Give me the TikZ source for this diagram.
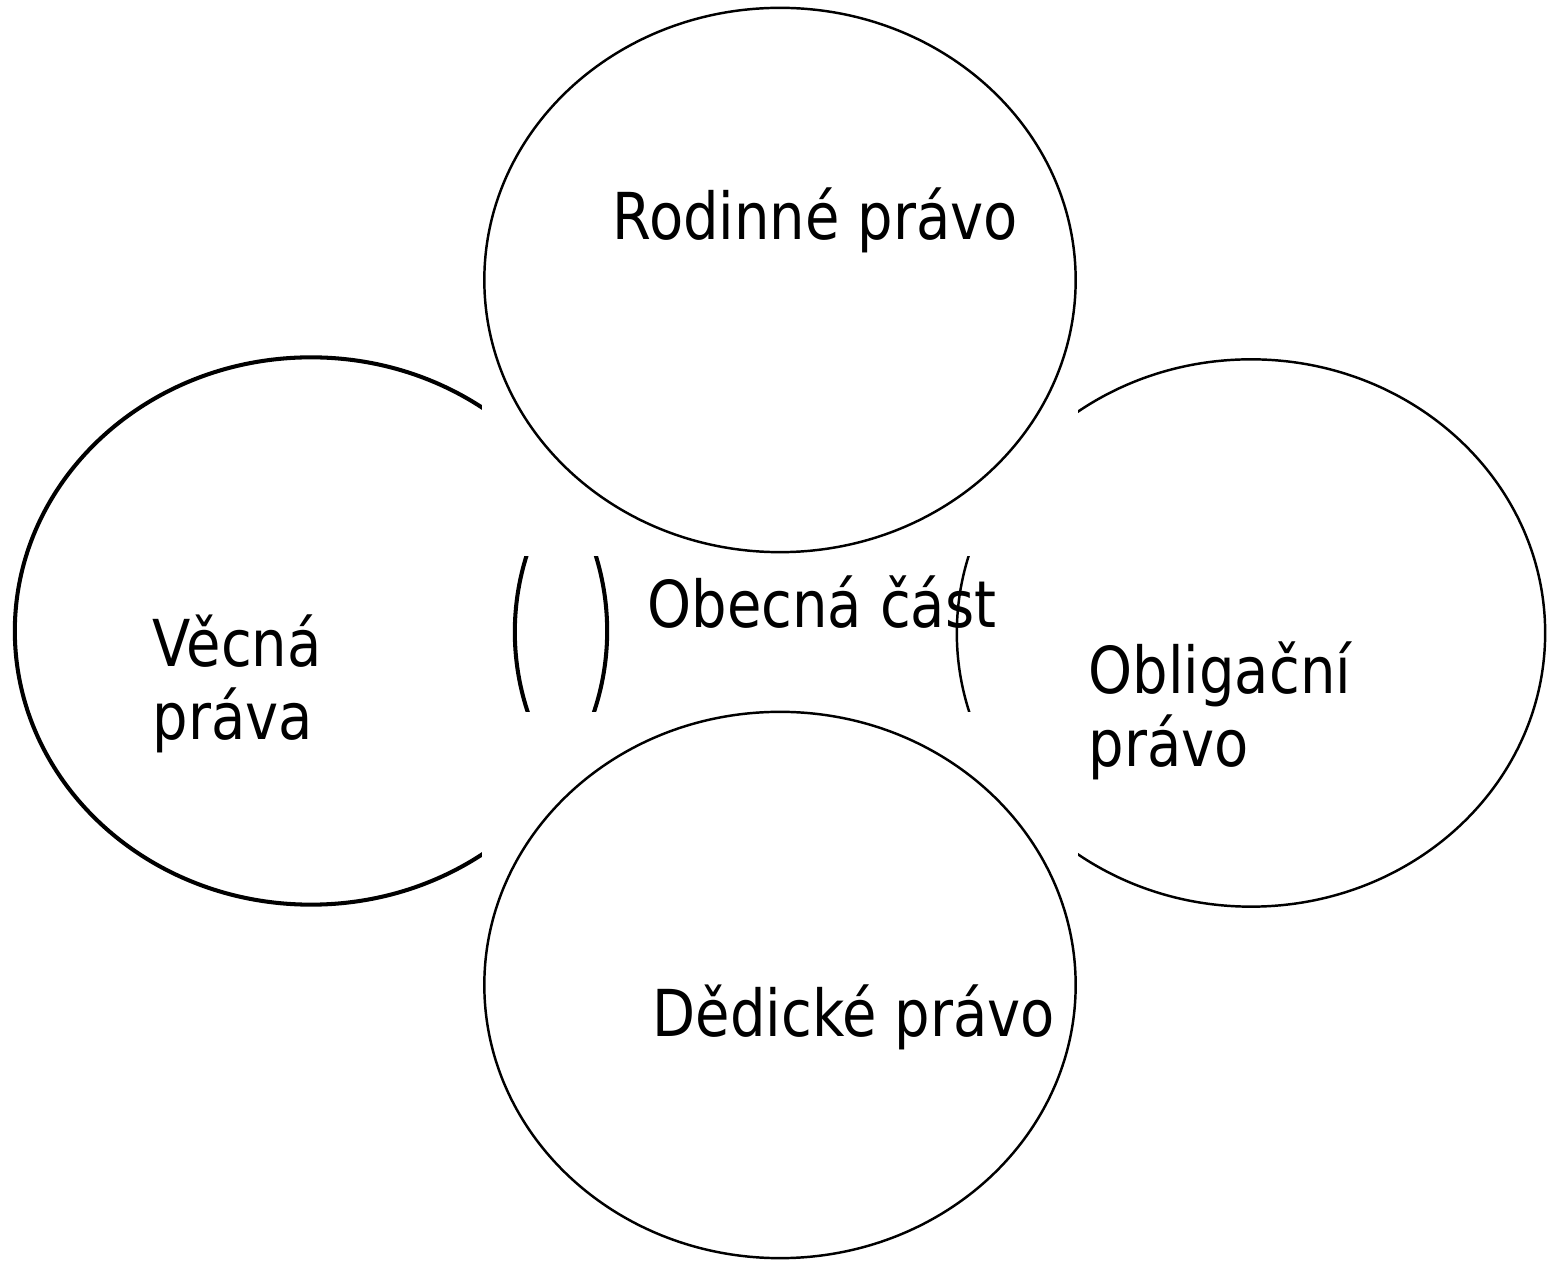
\documentclass[tikz,border=0pt]{standalone}
\usepackage{fontspec}
\setmainfont{DejaVu Sans}[FakeStretch=0.865]

\begin{document}
\begin{tikzpicture}[x = 0.01cm, y = -0.01cm,
      thickring/.style = {line width = 1.15pt},
      thinring/.style = {line width = 0.7pt, fill = white},
      oblast/.style = {anchor = base west, inner sep = 0pt, align = left, font = \fontsize{18.4}{21}\selectfont}]
      \useasboundingbox (0, 0) rectangle (1547, 1261);
      \draw[thickring] (311, 631) ellipse [x radius = 2.96cm, y radius = 2.735cm];
      \draw[thickring] (811, 632) ellipse [x radius = 2.96cm, y radius = 2.73cm];
      \draw[thinring] (1251, 633) ellipse [x radius = 2.94cm, y radius = 2.735cm];
      \fill[white] (482, 0) rectangle (1078, 556);
      \draw[thinring] (780, 280) ellipse [x radius = 2.955cm, y radius = 2.72cm];
      \fill[white] (482, 712) rectangle (1078, 1261);
      \draw[thinring] (780, 985) ellipse [x radius = 2.955cm, y radius = 2.73cm];
      \node[oblast] (rodinne) at (612, 240) {Rodinné právo};
      \node[oblast] (obecna) at (647, 628) {Obecná část};
      \node[oblast] (vecna) at (152, 740) {Věcná\\práva};
      \node[oblast] (obligacni) at (1088, 767) {Obligační\\právo};
      \node[oblast] (dedicke) at (652, 1037) {Dědické právo};
\end{tikzpicture}
\end{document}
